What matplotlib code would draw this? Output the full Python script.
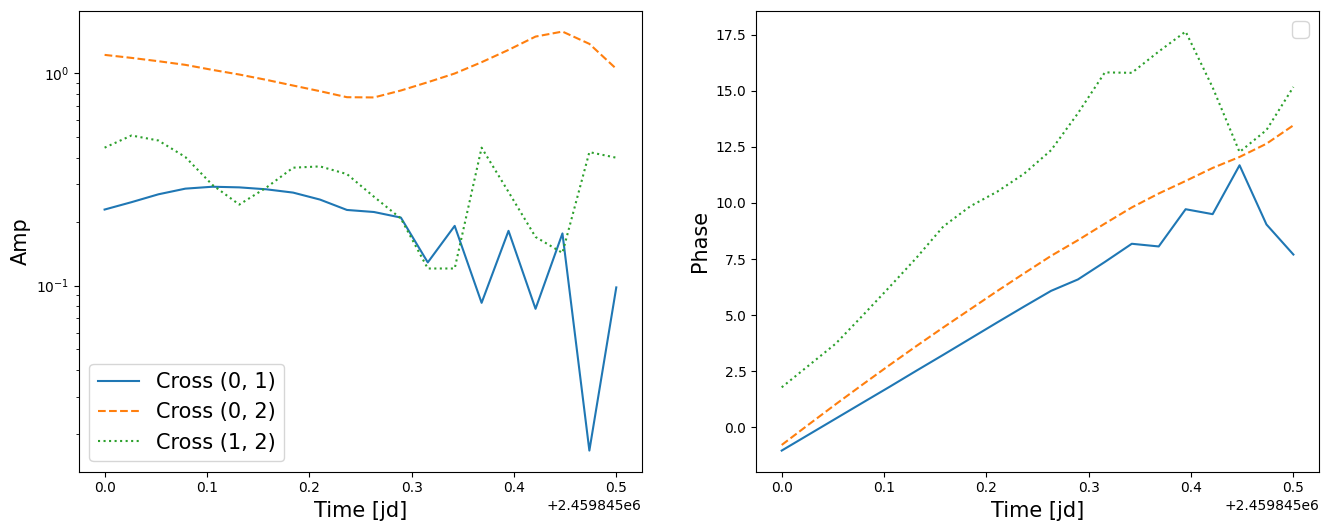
import matplotlib
matplotlib.use("Agg")
import matplotlib.pyplot as plt
import numpy as np

jd0 = 2459845.0
t_offset = [0.0, 0.0263, 0.0526, 0.0789, 0.1053, 0.1316, 0.1579, 0.1842, 0.2105, 0.2368,
            0.2632, 0.2895, 0.3158, 0.3421, 0.3684, 0.3947, 0.4211, 0.4474, 0.4737, 0.5]

labels = ["Cross (0, 1)", "Cross (0, 2)", "Cross (1, 2)"]
styles = ["-", "--", ":"]

amp_01 = [0.228, 0.247, 0.269, 0.286, 0.292, 0.290, 0.284, 0.274, 0.254, 0.227,
          0.222, 0.209, 0.1285, 0.191, 0.0829, 0.181, 0.0777, 0.176, 0.0167, 0.098]
amp_02 = [1.22, 1.181, 1.139, 1.095, 1.037, 0.986, 0.931, 0.875, 0.823, 0.771,
          0.769, 0.829, 0.907, 0.997, 1.127, 1.288, 1.488, 1.571, 1.375, 1.049]
amp_12 = [0.446, 0.509, 0.482, 0.403, 0.298, 0.2406, 0.289, 0.359, 0.364, 0.335,
          0.262, 0.207, 0.1203, 0.1203, 0.446, 0.276, 0.1694, 0.1425, 0.425, 0.400]

phase_01 = [-1.04, -0.33, 0.38, 1.09, 1.80, 2.52, 3.23, 3.95, 4.67, 5.38,
            6.08, 6.59, 7.37, 8.18, 8.06, 9.72, 9.50, 11.68, 9.04, 7.70]
phase_02 = [-0.79, 0.12, 1.02, 1.90, 2.77, 3.62, 4.45, 5.26, 6.07, 6.86,
            7.64, 8.34, 9.08, 9.80, 10.42, 10.98, 11.56, 12.05, 12.64, 13.46]
phase_12 = [1.78, 2.75, 3.72, 4.97, 6.25, 7.55, 8.95, 9.85, 10.50, 11.30,
            12.35, 14.0, 15.82, 15.80, 16.75, 17.64, 15.15, 12.27, 13.25, 15.17]

times = jd0 + np.array(t_offset)

fig, (ax1, ax2) = plt.subplots(1, 2, figsize=(13.28, 5.31), dpi=100)
fig.subplots_adjust(left=0.0595, right=0.9932, top=0.98, bottom=0.112, wspace=0.203)

for amp, lab, ls in zip([amp_01, amp_02, amp_12], labels, styles):
    ax1.plot(times, amp, ls, label=lab)
ax1.set_yscale("log")
ax1.set_xlabel("Time [jd]", fontsize=15)
ax1.set_ylabel("Amp", fontsize=15)
ax1.legend(fontsize=15, loc="lower left")

for ph, ls in zip([phase_01, phase_02, phase_12], styles):
    ax2.plot(times, ph, ls)
ax2.set_xlabel("Time [jd]", fontsize=15)
ax2.set_ylabel("Phase", fontsize=15)
ax2.legend(fontsize=15)

fig.savefig("out.png", dpi=100)
